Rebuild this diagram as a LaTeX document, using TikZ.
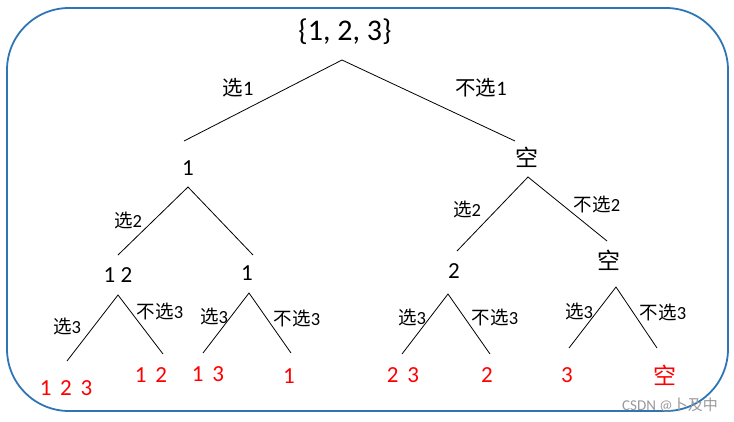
\documentclass[tikz,border=0pt]{standalone}
\usepackage{fontspec}
\setmainfont{Carlito}
\newfontfamily\cjk{Noto Sans CJK SC}
\definecolor{framec}{HTML}{2E75B6}
\definecolor{leafred}{HTML}{FF0000}
\newcommand{\gp}{\hspace{0.38em}}
\begin{document}
\begin{tikzpicture}[x=1pt,y=-1pt,
  every node/.style={inner sep=0pt, outer sep=0pt, anchor=center},
  rootlbl/.style={font=\fontsize{30}{34}\selectfont},
  setlbl/.style={font=\fontsize{23}{26}\selectfont},
  cjkset/.style={font=\fontsize{23}{26}\selectfont\cjk},
  edgelbl/.style={font=\fontsize{20.5}{24}\selectfont},
  smalllbl/.style={font=\fontsize{18.5}{22}\selectfont},
  leaflbl/.style={font=\fontsize{23}{26}\selectfont, text=leafred},
  branch/.style={draw=black, line width=0.8pt},
  frame/.style={draw=framec, line width=1.8pt, rounded corners=62pt}]
\useasboundingbox (0,0) rectangle (734,421);
\draw[frame] (7,8) rectangle (728,411);

% nodes
\node[rootlbl] (root) at (345,32) {\{1, 2, 3\}};
\node[setlbl] (n1) at (188,168) {1};
\node[cjkset] (n0) at (527,157) {空};
\node[setlbl] (n12) at (118,275) {1 2};
\node[setlbl] (n1b) at (247,273) {1};
\node[setlbl] (n2) at (454,271) {2};
\node[cjkset] (n00) at (609,260) {空};
\node[leaflbl] (l123) at (66,388) {1\gp 2\gp 3};
\node[leaflbl] (l12) at (151,375) {1\gp 2};
\node[leaflbl] (l13) at (208,374) {1\gp 3};
\node[leaflbl] (l1) at (289,376) {1};
\node[leaflbl] (l23) at (403,375) {2\gp 3};
\node[leaflbl] (l2) at (487,375) {2};
\node[leaflbl] (l3) at (567,375) {3};
\node[leaflbl, font=\fontsize{23}{26}\selectfont\cjk] (l0) at (665,375) {空};

% edge labels
\node[edgelbl] (e1) at (238,88) {{\cjk 选}1};
\node[edgelbl] (e2) at (481,88) {{\cjk 不选}1};
\node[smalllbl] (e3) at (128,221) {{\cjk 选}2};
\node[smalllbl] (e4) at (467,210) {{\cjk 选}2};
\node[smalllbl] (e5) at (597,205) {{\cjk 不选}2};
\node[smalllbl] (e6) at (67,327) {{\cjk 选}3};
\node[smalllbl] (e7) at (160,312) {{\cjk 不选}3};
\node[smalllbl] (e8) at (214,317) {{\cjk 选}3};
\node[smalllbl] (e9) at (297,319) {{\cjk 不选}3};
\node[smalllbl] (e10) at (412,318) {{\cjk 选}3};
\node[smalllbl] (e11) at (495,318) {{\cjk 不选}3};
\node[smalllbl] (e12) at (579,312) {{\cjk 选}3};
\node[smalllbl] (e13) at (663,313) {{\cjk 不选}3};

\node[font=\fontsize{15}{18}\selectfont, text=black!40] (wm) at (670,405) {CSDN @{\cjk 卜及中}};

% branch coordinates
\coordinate (a0) at (342,60);
\coordinate (a0l) at (184,141);
\coordinate (a0r) at (515,141);
\coordinate (a1) at (188,187);
\coordinate (a1l) at (118,255);
\coordinate (a1r) at (253,255);
\coordinate (a2) at (528,177);
\coordinate (a2l) at (457,251);
\coordinate (a2r) at (607,241);
\coordinate (a3) at (118,295);
\coordinate (a3l) at (67,361);
\coordinate (a3r) at (163,354);
\coordinate (a4) at (249,293);
\coordinate (a4l) at (203,353);
\coordinate (a4r) at (291,353);
\coordinate (a5) at (448,294);
\coordinate (a5l) at (402,354);
\coordinate (a5r) at (490,354);
\coordinate (a6) at (616,287);
\coordinate (a6l) at (569,348);
\coordinate (a6r) at (657,348);

\foreach \k in {0,...,6} {
  \draw[branch] (a\k l) -- (a\k) -- (a\k r);
}
\end{tikzpicture}
\end{document}
